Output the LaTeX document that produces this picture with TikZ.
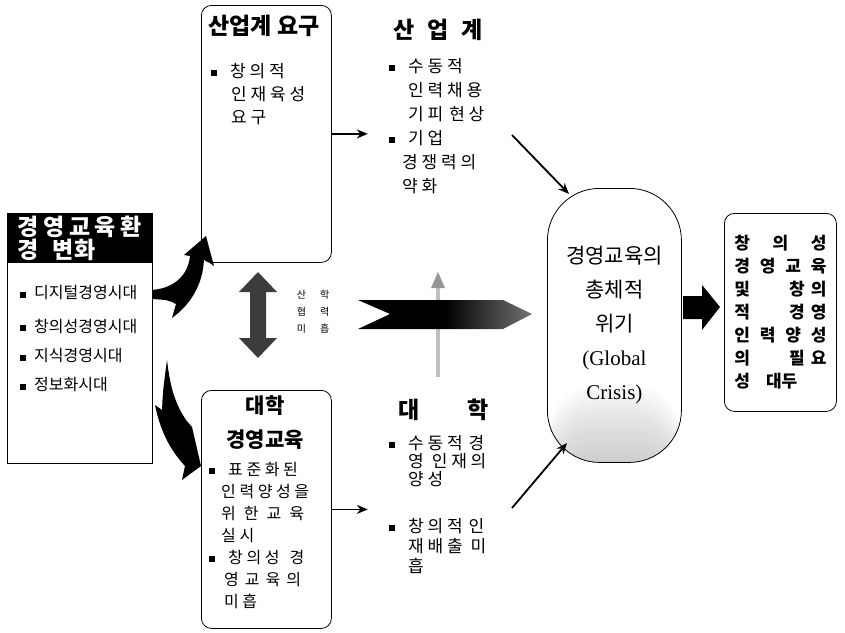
\documentclass[tikz,border=0pt]{standalone}
\usepackage{fontspec}
\setmainfont{Noto Sans CJK KR}
\newfontfamily\latinserif{Liberation Serif}
\usepackage{tikz}
\usetikzlibrary{arrows,arrows.meta,shapes,positioning}
\usepackage{xcolor}
\definecolor{crgray}{RGB}{150,150,150}
\definecolor{crdark}{RGB}{60,60,60}
\newcommand{\sqbul}{\rule[1pt]{6pt}{6pt}}
\tikzstyle{rbox} = [draw, thick, rounded corners=10pt, anchor=north west]
\tikzstyle{body} = [anchor=north west, align=left, inner sep=0pt, font=\fontsize{16}{22}\selectfont]
\tikzstyle{title} = [inner sep=0pt, font=\fontsize{23}{24}\selectfont\bfseries]
\tikzstyle{arrow} = [line width=1.8pt,-{Stealth[length=11pt,width=9pt]}]

\begin{document}
\begin{tikzpicture}[x=1pt,y=-1pt]
\useasboundingbox (0,0) rectangle (845,632);

% left box: environment change
\node (envbox) [draw, thick, anchor=north west, minimum width=145, minimum height=250] at (7,213) {};
\node (envhead) [fill=black, text=white, anchor=north west, minimum width=145, minimum height=50, inner xsep=1pt, inner ysep=2pt, align=left, font=\fontsize{23}{20}\selectfont\bfseries] at (7,213) {경\hspace{4.5pt}영\hspace{4.5pt}교\hspace{4.5pt}육\hspace{4.5pt}환\\경\hspace{14pt}변화};
\node (env1) [body, anchor=west] at (20,293) {\sqbul\hspace{8pt}디지털경영시대};
\node (env2) [body, anchor=west] at (20,326) {\sqbul\hspace{8pt}창의성경영시대};
\node (env3) [body, anchor=west] at (20,356) {\sqbul\hspace{8pt}지식경영시대};
\node (env4) [body, anchor=west] at (20,385) {\sqbul\hspace{8pt}정보화시대};

% industry box
\node (indbox) [rbox, minimum width=130, minimum height=257] at (201,5) {};
\node (indtitle) [title] at (264,26) {산업계 요구};
\node (indtext) [body, font=\fontsize{17}{23}\selectfont] at (211,63) {\sqbul\hspace{13pt}창 의 적\\\hspace{20pt}인 재 육 성\\\hspace{20pt}요 구};

% university box
\node (unibox) [rbox, minimum width=130, minimum height=238] at (201,390) {};
\node (unititle) [title, font=\fontsize{21}{22}\selectfont\bfseries] at (265,406) {대학};
\node (unititle2) [title, font=\fontsize{21}{22}\selectfont\bfseries] at (265,440) {경영교육};
\node (unitext) [body, font=\fontsize{16}{22}\selectfont] at (209,462) {\sqbul\hspace{13pt}표 준 화 된\\\hspace{12pt}인 력 양 성 을\\\hspace{12pt}위\hspace{8pt}한\hspace{8pt}교\hspace{8pt}육\\\hspace{12pt}실 시\\\sqbul\hspace{13pt}창 의 성\hspace{10pt}경\\\hspace{15pt}영\hspace{6pt}교\hspace{6pt}육\hspace{6pt}의\\\hspace{15pt}미 흡};

% industry side
\node (indhead) [title] at (438,30) {산\hspace{13pt}업\hspace{13pt}계};
\node (indres) [body, font=\fontsize{17}{24}\selectfont] at (389,58) {\sqbul\hspace{13pt}수 동 적\\\hspace{19pt}인 력 채 용\\\hspace{19pt}기 피\hspace{6pt}현 상\\\sqbul\hspace{13pt}기 업\\\hspace{13pt}경 쟁 력 의\\\hspace{13pt}약 화};

% university side
\node (unihead) [title] at (444,410) {대\hspace{48pt}학};
\node (unires1) [body, font=\fontsize{17}{18}\selectfont] at (389,435) {\sqbul\hspace{13pt}수 동 적\hspace{6pt}경\\\hspace{19pt}영\hspace{8pt}인 재 의\\\hspace{19pt}양 성};
\node (unires2) [body, font=\fontsize{17}{20}\selectfont] at (389,518) {\sqbul\hspace{13pt}창 의 적\hspace{6pt}인\\\hspace{19pt}재 배 출\hspace{8pt}미\\\hspace{19pt}흡};

% cooperation label
\node (coop) [align=left, inner sep=0pt, font=\fontsize{10}{17}\selectfont] at (313,312) {산\hspace{14pt}학\\협\hspace{14pt}력\\미\hspace{14pt}흡};

% crisis capsule
\node (crisis) [draw, thick, rounded corners=52pt, anchor=north west, minimum width=134, minimum height=274,
  path picture={\foreach \k in {1,...,14} {\fill[crgray, opacity=0.045] (path picture bounding box.south west) rectangle ([yshift=\k*5.5pt]path picture bounding box.south east);}}] at (547,188) {};
\node (crisistext) [align=center, inner sep=0pt, font=\fontsize{21}{34}\selectfont] at (crisis.center) {경영교육의\\총체적\\위기\\{\latinserif (Global}\\{\latinserif Crisis)}};

% result box
\node (resbox) [rbox, minimum width=112, minimum height=198] at (724,213) {};
\node (restext) [align=left, inner sep=0pt, font=\fontsize{17}{23}\selectfont\bfseries] at (resbox.center) {\makebox[92pt][s]{창\hfill 의\hfill 성}\\\makebox[92pt][s]{경\hfill 영\hfill 교\hfill 육}\\\makebox[92pt][s]{및\hfill 창\hspace{6pt}의}\\\makebox[92pt][s]{적\hfill 경\hspace{6pt}영}\\\makebox[92pt][s]{인\hfill 력\hfill 양\hfill 성}\\\makebox[92pt][s]{의\hfill 필\hspace{6pt}요}\\\makebox[92pt][l]{성\hspace{16pt}대두}};

% plain arrows
\coordinate (indout) at (512,135);
\coordinate (hitA) at (569,194);
\coordinate (uniout) at (512,508);
\coordinate (hitB) at (567,443);
\draw[arrow] (indbox.east) -- ++(36,0);
\draw[arrow] (unibox.east) -- ++(36,0);
\draw[arrow] (indout) -- (hitA);
\draw[arrow] (uniout) -- (hitB);

% curved fat arrows from the left box
\fill (152,290) .. controls (175,288) and (188,275) .. (190,256) -- (184,255) -- (206,236) -- (214,266) -- (204,259) .. controls (203,285) and (190,305) .. (172,318) -- (176,304) .. controls (168,300) .. (152,299) -- cycle;
\fill (167,360) .. controls (170,385) and (174,402) .. (186,420) -- (192,427) -- (201,466) -- (182,480) -- (185,466) .. controls (170,450) and (160,430) .. (155,405) -- (162,410) .. controls (163,390) .. (167,360) -- cycle;

% double arrow
\fill[crdark] (258,272) -- (277,292) -- (266,292) -- (266,338) -- (277,338) -- (258,358) -- (239,338) -- (250,338) -- (250,292) -- (239,292) -- cycle;

% thin gray arrow (behind the chevron)
\fill[crgray!60] (436,377) rectangle (440,287);
\fill[crgray] (431,288) -- (438,272) -- (445,288) -- cycle;

% chevron
\shade[left color=black, right color=black!55, middle color=black] (358,300) -- (503,300) -- (532,314) -- (503,329) -- (358,329) -- (390,314) -- cycle;

% block arrow to result
\fill (683,296) -- (702,296) -- (702,285) -- (720,307) -- (702,330) -- (702,319) -- (683,319) -- cycle;
\end{tikzpicture}
\end{document}
